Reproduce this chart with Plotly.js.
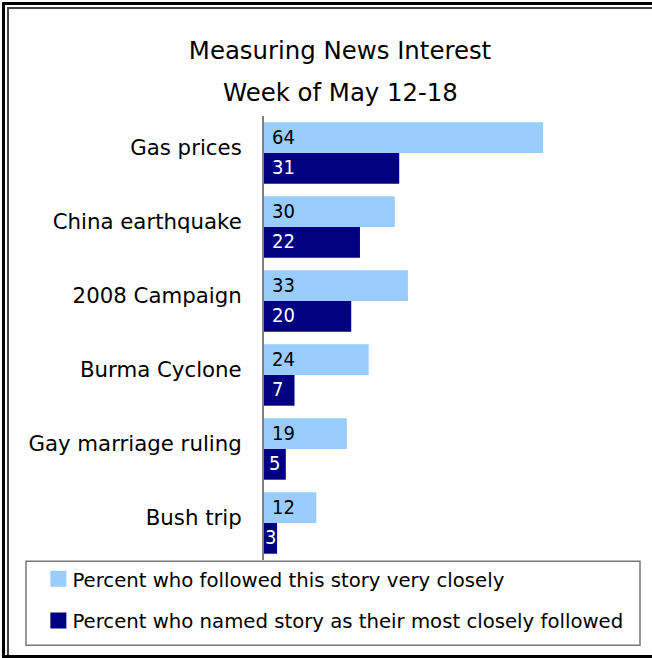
<!DOCTYPE html>
<html>
<head>
<meta charset="utf-8">
<script src="https://cdn.plot.ly/plotly-3.0.1.min.js"></script>
<style>
  html, body { margin: 0; padding: 0; background: #fff; }
  #wrap { position: relative; width: 652px; height: 658px; }
  #chart { position: absolute; left: 0; top: 0; width: 652px; height: 658px; }
  .b { position: absolute; background: #000; pointer-events: none; }
</style>
</head>
<body>
<div id="wrap">
  <div id="chart"></div>
  <div class="b" style="left:2px;top:2px;width:650px;height:3px;"></div>
  <div class="b" style="left:2px;top:2px;width:3px;height:656px;"></div>
  <div class="b" style="left:7px;top:7px;width:645px;height:2px;background:#444;"></div>
  <div class="b" style="left:7px;top:7px;width:2px;height:651px;background:#444;"></div>
  <div class="b" style="left:2px;top:655px;width:650px;height:3px;"></div>
</div>
<script>
const categories = ["Gas prices", "China earthquake", "2008 Campaign", "Burma Cyclone", "Gay marriage ruling", "Bush trip"];
const followedVeryClosely = [64, 30, 33, 24, 19, 12];
const mostClosely = [31, 22, 20, 7, 5, 3];
const seriesNames = ["Percent who followed this story very closely", "Percent who named story as their most closely followed"];
const titleLines = ["Measuring News Interest", "Week of May 12-18"];

const FONT = "DejaVu Sans, Verdana, sans-serif";
const FONT_NUM = "DejaVu Sans Condensed, DejaVu Sans, sans-serif";
const LIGHT = "#99CCFF";
const DARK = "#000080";

const traces = [
  {
    type: "bar", orientation: "h", name: seriesNames[0],
    y: categories, x: followedVeryClosely,
    marker: { color: LIGHT }, legendgroup: "a",
    hoverinfo: "x+y"
  },
  {
    type: "bar", orientation: "h", name: seriesNames[1],
    y: categories, x: mostClosely,
    marker: { color: DARK }, legendgroup: "b",
    hoverinfo: "x+y"
  }
];

// value labels: at bar base; very short bars get the label centred in the bar
function valueLabel(cat, v, yshift, color) {
  const small = v < 6;
  return {
    x: small ? v / 2 : 0, y: cat, xref: "x", yref: "y",
    xanchor: small ? "center" : "left", yanchor: "middle",
    xshift: small ? 0 : 6, yshift: yshift, showarrow: false,
    text: String(v),
    font: { family: FONT_NUM, size: 20, color: color }
  };
}
const annotations = [];
categories.forEach((c, i) => {
  annotations.push(valueLabel(c, followedVeryClosely[i], 16, "#000"));
  annotations.push(valueLabel(c, mostClosely[i], -14, "#fff"));
});
annotations.push({
  xref: "paper", yref: "paper", x: (340 - 264) / 376, y: 1, yshift: 116 - 92,
  xanchor: "center", yanchor: "middle",
  showarrow: false, text: titleLines[1], font: { family: FONT, size: 24.4, color: "#000" }
});

const layout = {
  width: 652, height: 658,
  margin: { l: 264, r: 12, t: 116, b: 98 },
  paper_bgcolor: "rgba(0,0,0,0)", plot_bgcolor: "rgba(0,0,0,0)",
  font: { family: FONT, color: "#000" },
  title: {
    text: titleLines[0], font: { family: FONT, size: 24.4, color: "#000" },
    x: 340 / 652, xref: "container", xanchor: "center", y: 1 - 50 / 658, yref: "container", yanchor: "middle"
  },
  barmode: "group", bargap: 0.17, bargroupgap: 0,
  xaxis: { range: [0, 86.2], showgrid: false, zeroline: false, showticklabels: false, showline: false, fixedrange: true },
  yaxis: {
    autorange: "reversed", showgrid: false, zeroline: false, showline: true,
    linecolor: "#808080", linewidth: 2, ticks: "", ticklabelstandoff: 16, ticklabelshift: 5,
    tickfont: { family: FONT, size: 21.3, color: "#000" }, fixedrange: true
  },
  showlegend: true,
  legend: {
    x: -0.616, xanchor: "left", y: 0.001, yanchor: "top",
    font: { family: FONT, size: 19.7, color: "#000" },
    bgcolor: "rgba(0,0,0,0)", borderwidth: 0, tracegroupgap: 13,
    traceorder: "grouped"
  },
  annotations: annotations,
  shapes: [
    { type: "rect", xref: "paper", yref: "paper", x0: -0.633, x1: 1.0, y0: -0.003, y1: -0.192,
      line: { color: "#777", width: 1.5 }, fillcolor: "rgba(0,0,0,0)" }
  ]
};

Plotly.newPlot("chart", traces, layout, { displayModeBar: false, staticPlot: true }).then(gd => {
  // enlarge legend swatches to match the reference's bigger squares
  gd.querySelectorAll(".legend .legendpoints path").forEach(p => {
    p.setAttribute("d", "M8,8H-8V-8H8Z");
    p.setAttribute("transform", "translate(26,0)");
  });
});
</script>
</body>
</html>
